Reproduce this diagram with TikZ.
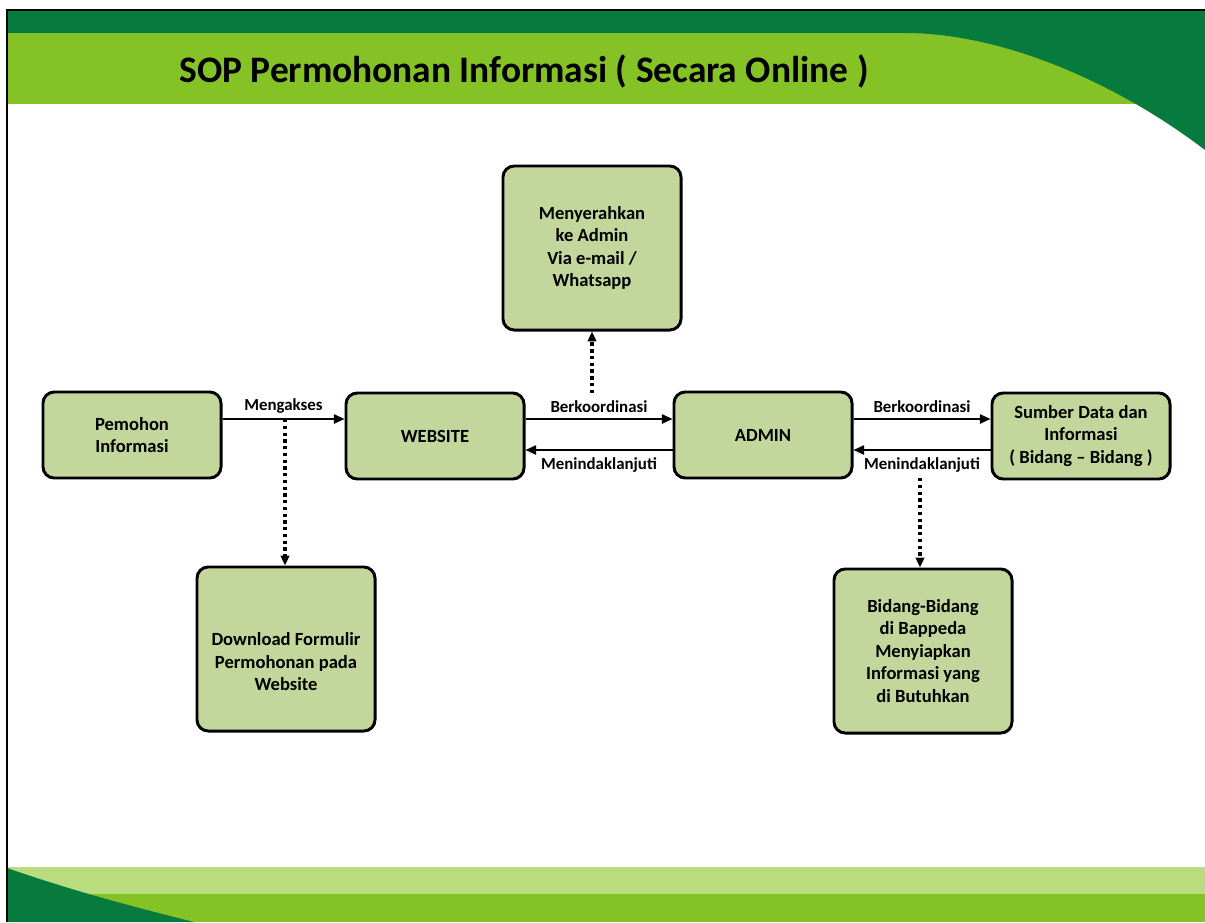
\documentclass[tikz,border=0pt]{standalone}
\usepackage{fontspec}
\setmainfont{Carlito}
\usepackage{tikz}
\usetikzlibrary{positioning}
\usetikzlibrary{arrows.meta}
\definecolor{darkgrn}{HTML}{077A3E}
\definecolor{limegrn}{HTML}{84C225}
\definecolor{palegrn}{HTML}{B9DC7E}
\definecolor{boxgrn}{HTML}{C3D69B}
\tikzset{
  sopbox/.style={draw, line width=2.1pt, rounded corners=8pt, fill=boxgrn, align=center,
    font=\bfseries\fontsize{13.2}{16}\selectfont, minimum width=4.45cm, minimum height=2.15cm, inner sep=2pt},
  tallbox/.style={sopbox, minimum height=4.1cm},
  flow/.style={-{Triangle[length=7.5pt,width=6.5pt]}, line width=1.4pt},
  dotflow/.style={-{Triangle[length=7pt,width=6pt]}, line width=2.4pt, dash pattern=on 2.4pt off 2.4pt},
  lbl/.style={font=\bfseries\fontsize{12}{14}\selectfont, inner sep=1.5pt}
}

\begin{document}
\begin{tikzpicture}[x=0.025cm, y=-0.025cm]
       \useasboundingbox (0,0) rectangle (1205,922);
       % slide background and header
       \fill[white] (0,0) rectangle (1205,922);
       \fill[limegrn] (7,33) rectangle (1205,104);
       \fill[darkgrn] (7,10) rectangle (1205,33);
       \fill[darkgrn] (905,33) .. controls (1005,33) and (1120,85) .. (1205,150) -- (1205,33) -- cycle;
       % footer
       \fill[palegrn] (7,867) rectangle (1205,894);
       \fill[limegrn] (7,894) rectangle (1205,922);
       \fill[darkgrn] (7,868) .. controls (70,890) and (130,906) .. (194,922) -- (7,922) -- cycle;
       \draw[line width=1.6pt] (7,922) -- (7,10) -- (1205,10);
       \node[anchor=base, font=\bfseries\fontsize{26.6}{30}\selectfont] (title) at (524,82) {SOP Permohonan Informasi ( Secara Online )};
       % boxes
       \node[sopbox] (pem) at (132,435) {Pemohon\\Informasi};
       \node[sopbox] (web) at (435,436) {WEBSITE};
       \node[sopbox] (adm) at (763,435) {ADMIN};
       \node[sopbox] (sum) at (1081,436) {Sumber Data dan\\Informasi\\( Bidang -- Bidang )};
       \node[tallbox] (mny) at (592,248) {Menyerahkan\\ke Admin\\Via e-mail /\\Whatsapp};
       \node[tallbox] (dl) at (286,649) {\strut\\Download Formulir\\Permohonan pada\\Website};
       \node[tallbox] (bid) at (923,651) {Bidang-Bidang\\di Bappeda\\Menyiapkan\\Informasi yang\\di Butuhkan};
       % rows of the connectors
       \coordinate (rowA) at (0,419);
       \coordinate (rowB) at (0,450);
       \coordinate (akses) at (285,419);
       \coordinate (koor) at (592,393);
       \coordinate (tindak) at (920,478);
       % connectors
       \draw[flow] (pem.east |- rowA) -- node[lbl, above=2pt] {Mengakses} (web.west |- rowA);
       \draw[flow] (web.east |- rowA) -- node[lbl, above=2pt] {Berkoordinasi} (adm.west |- rowA);
       \draw[flow] (adm.west |- rowB) -- node[lbl, below=3pt] {Menindaklanjuti} (web.east |- rowB);
       \draw[flow] (adm.east |- rowA) -- node[lbl, above=2pt] {Berkoordinasi} (sum.west |- rowA);
       \draw[flow] (sum.west |- rowB) -- node[lbl, below=3pt] {Menindaklanjuti} (adm.east |- rowB);
       \draw[dotflow] (akses) -- (akses |- dl.north);
       \draw[dotflow] (koor) -- (mny.south);
       \draw[dotflow] (tindak) -- (tindak |- bid.north);
\end{tikzpicture}
\end{document}
